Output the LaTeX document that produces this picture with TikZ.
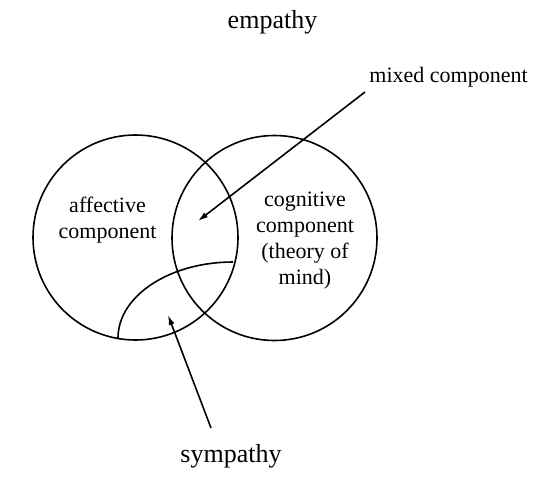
\documentclass[tikz,border=0pt]{standalone}
\usepackage{fontspec}
\setmainfont{Liberation Serif}
\usetikzlibrary{arrows.meta}
\begin{document}
\begin{tikzpicture}[x=1pt,y=-1pt,
  ring/.style={draw,circle,line width=1.6pt,minimum size=205pt,inner sep=0pt},
  inlabel/.style={font=\fontsize{22}{26}\selectfont,align=center,inner sep=0pt},
  outlabel/.style={font=\fontsize{26}{30}\selectfont,inner sep=0pt,anchor=base},
  pointer/.style={line width=1.6pt,-{Latex[length=10pt,width=6pt]}}]
\useasboundingbox (0,0) rectangle (545,479);
\node[ring] (aff) at (135.5,237.5) {};
\node[ring] (cog) at (274.5,238) {};
\coordinate (s1) at (118,338);
\coordinate (s2) at (233,262);
\draw[line width=1.6pt] (s1) .. controls (118,296) and (169.5,262) .. (s2);
\node[outlabel] (emp) at (272.5,28) {empathy};
\node[outlabel] (sym) at (231,462) {sympathy};
\node[inlabel,anchor=base] (mix) at (448.5,82) {mixed component};
\node[inlabel] (afft) at (107.5,220) {affective\\component};
\node[inlabel] (cogt) at (305,240.5) {cognitive\\component\\(theory of\\mind)};
\coordinate (mixtail) at (365,92);
\coordinate (mixtip) at (198,221);
\coordinate (symtail) at (211,428);
\coordinate (symtip) at (168,315);
\draw[pointer] (mixtail) -- (mixtip);
\draw[pointer] (symtail) -- (symtip);
\end{tikzpicture}
\end{document}
